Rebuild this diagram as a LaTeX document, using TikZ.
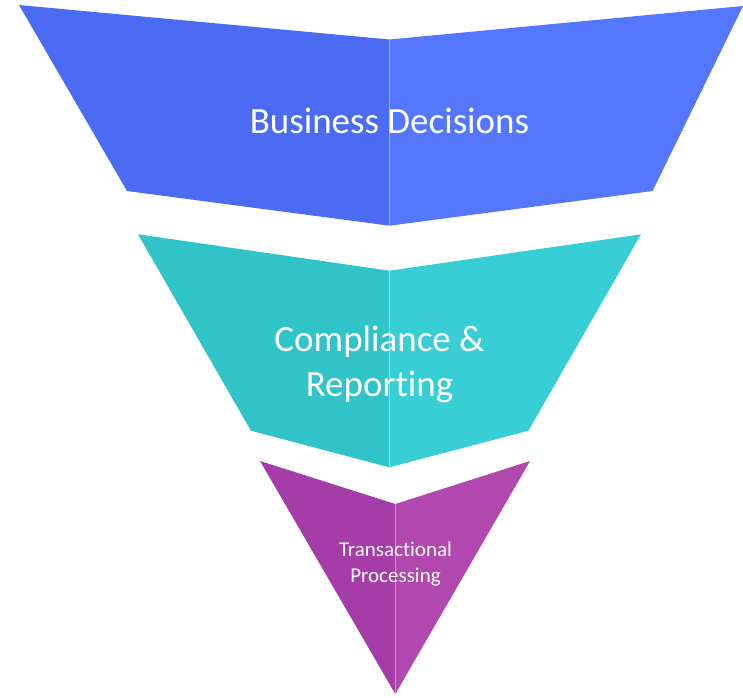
\documentclass[tikz,border=0pt]{standalone}
\usepackage{fontspec}
\setmainfont[Ligatures={NoCommon,NoRare,NoContextual}]{Carlito}
\definecolor{blueL}{HTML}{4A6BF2}
\definecolor{blueR}{HTML}{5577FE}
\definecolor{tealL}{HTML}{30C3C8}
\definecolor{tealR}{HTML}{38CED6}
\definecolor{purpL}{HTML}{A43DA8}
\definecolor{purpR}{HTML}{B048B0}
\tikzset{
  face/.style={draw=none},
  seam/.style={draw=white, opacity=0.25, line width=0.6pt},
  lbl/.style={text=white, align=center, inner sep=0pt}
}
\begin{document}
\begin{tikzpicture}[x=1pt,y=-1pt]
\useasboundingbox (0,0) rectangle (743,697);
% top
\fill[blueL] (19,5) -- (389.5,39.5) -- (389.5,225.7) -- (127,191) -- cycle;
\fill[blueR] (389.5,39.5) -- (743,6) -- (652.6,191) -- (389.5,225.7) -- cycle;
\draw[seam] (389.5,39.5) -- (389.5,225.7);
% middle
\fill[tealL] (138,234.3) -- (389.3,270.7) -- (389.3,467.3) -- (250.9,430.7) -- cycle;
\fill[tealR] (389.3,270.7) -- (641,234.3) -- (528.4,430.7) -- (389.3,467.3) -- cycle;
\draw[seam] (389.3,270.7) -- (389.3,467.3);
% bottom
\fill[purpL] (260,461) -- (395.3,504) -- (395.3,694) -- cycle;
\fill[purpR] (395.3,504) -- (530,461) -- (395.3,694) -- cycle;
\draw[seam] (395.3,504) -- (395.3,694);
% labels
\node[lbl, font=\fontsize{37}{45}\selectfont, anchor=base] (t1) at (389.5,133) {Business Decisions};
\node[lbl, font=\fontsize{37}{45}\selectfont, anchor=base] (t2) at (379.5,396) {Compliance \&\\Reporting};
\node[lbl, font=\fontsize{21}{26}\selectfont, anchor=base] (t3) at (395.5,582) {Transactional\\Processing};
\end{tikzpicture}
\end{document}
